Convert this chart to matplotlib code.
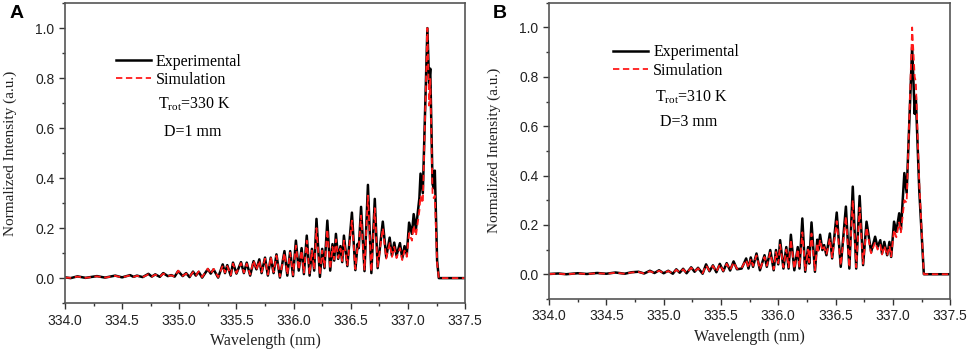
import matplotlib.pyplot as plt
from matplotlib.ticker import MultipleLocator

plt.rcParams["mathtext.fontset"] = "custom"
plt.rcParams["mathtext.rm"] = "Liberation Serif"
plt.rcParams["mathtext.it"] = "Liberation Serif:italic"

# Panel A (D=1 mm): band-head region, extrema
wl_a = [334.00, 334.05, 334.11, 334.18, 334.28, 334.35, 334.44, 334.50, 334.57, 334.60,
        334.63, 334.68, 334.73, 334.76, 334.79, 334.83, 334.86, 334.90,
        334.93, 334.96, 334.99, 335.03, 335.06, 335.09, 335.12, 335.145, 335.17, 335.20,
        335.25, 335.275, 335.30, 335.34, 335.38, 335.40, 335.42, 335.45, 335.47, 335.50,
        335.54, 335.565, 335.59, 335.62, 335.65, 335.675, 335.70, 335.72, 335.75, 335.775,
        335.80, 335.825, 335.85, 335.88, 335.92, 335.945, 335.97, 335.995,
        336.02, 336.045, 336.07, 336.09, 336.115, 336.14, 336.16, 336.18, 336.20, 336.23,
        336.25, 336.27, 336.295, 336.32, 336.34, 336.355, 336.37, 336.39, 336.41, 336.425,
        336.44, 336.47,
        336.51, 336.54, 336.56, 336.57, 336.59, 336.62, 336.65, 336.68, 336.71, 336.735,
        336.78, 336.81, 336.84, 336.86, 336.88, 336.90, 336.93, 336.95, 336.97, 336.99,
        337.01, 337.035, 337.05, 337.07, 337.10, 337.11, 337.13, 337.17, 337.185, 337.195,
        337.215, 337.225, 337.235, 337.255, 337.27, 337.30, 337.50]
exp_a = [0.003, 0.000, 0.007, 0.001, 0.008, 0.002, 0.010, 0.003, 0.012, 0.005,
         0.010, 0.004, 0.017, 0.006, 0.015, 0.005, 0.020, 0.008,
         0.012, 0.006, 0.028, 0.008, 0.020, 0.004, 0.026, 0.010, 0.025, 0.002,
         0.036, 0.018, 0.035, 0.002, 0.055, 0.020, 0.052, 0.010, 0.062, 0.018,
         0.064, 0.020, 0.062, 0.010, 0.068, 0.035, 0.075, 0.020, 0.082, 0.010,
         0.082, 0.020, 0.095, 0.002, 0.108, 0.010, 0.108, 0.008,
         0.150, 0.030, 0.120, 0.016, 0.170, 0.010, 0.117, 0.030, 0.237, 0.005,
         0.117, 0.040, 0.230, 0.030, 0.136, 0.070, 0.177, 0.077, 0.128, 0.064,
         0.170, 0.048,
         0.262, 0.032, 0.137, 0.120, 0.285, 0.028, 0.373, 0.020, 0.317, 0.040,
         0.226, 0.084, 0.162, 0.090, 0.142, 0.090, 0.140, 0.080, 0.128, 0.095,
         0.222, 0.177, 0.256, 0.197, 0.320, 0.418, 0.340, 1.000, 0.780, 0.838,
         0.377, 0.360, 0.430, 0.070, 0.000, 0.000, 0.000]
sim_a = [0.002, 0.001, 0.006, 0.001, 0.007, 0.002, 0.009, 0.003, 0.011, 0.005,
         0.009, 0.004, 0.015, 0.006, 0.014, 0.005, 0.018, 0.008,
         0.011, 0.006, 0.030, 0.009, 0.018, 0.005, 0.024, 0.010, 0.027, 0.004,
         0.038, 0.016, 0.037, 0.004, 0.050, 0.022, 0.048, 0.012, 0.058, 0.020,
         0.060, 0.022, 0.058, 0.014, 0.070, 0.032, 0.070, 0.024, 0.078, 0.014,
         0.085, 0.024, 0.090, 0.006, 0.100, 0.014, 0.102, 0.012,
         0.130, 0.034, 0.110, 0.022, 0.150, 0.016, 0.110, 0.034, 0.200, 0.012,
         0.110, 0.045, 0.195, 0.036, 0.125, 0.075, 0.155, 0.080, 0.118, 0.068,
         0.150, 0.052,
         0.230, 0.036, 0.130, 0.125, 0.250, 0.034, 0.330, 0.026, 0.280, 0.046,
         0.200, 0.078, 0.140, 0.085, 0.125, 0.080, 0.120, 0.072, 0.110, 0.085,
         0.180, 0.150, 0.210, 0.170, 0.270, 0.330, 0.300, 1.000, 0.690, 0.800,
         0.340, 0.320, 0.330, 0.060, 0.000, 0.000, 0.000]

# Panel B (D=3 mm)
wl_b = [334.00, 334.08, 334.15, 334.25, 334.33, 334.42, 334.50, 334.58, 334.66, 334.72,
        334.78, 334.83, 334.88, 334.92,
        334.96, 335.00, 335.04, 335.08, 335.11, 335.14, 335.17, 335.20, 335.24, 335.27,
        335.30, 335.34, 335.37, 335.40, 335.43, 335.46, 335.49, 335.52, 335.55, 335.58,
        335.61, 335.64,
        335.68, 335.72, 335.74, 335.76, 335.78, 335.81, 335.84, 335.88, 335.90, 335.93,
        335.96, 335.98, 336.00,
        336.016, 336.045, 336.07, 336.09, 336.11, 336.14, 336.17, 336.185, 336.21, 336.235,
        336.26, 336.27, 336.29, 336.32, 336.34, 336.35, 336.365, 336.385, 336.40, 336.42,
        336.45, 336.47,
        336.51, 336.545, 336.59, 336.62, 336.65, 336.68, 336.71, 336.74, 336.77, 336.81,
        336.845, 336.866, 336.89, 336.905, 336.925, 336.95, 336.97, 336.985,
        337.01, 337.03, 337.055, 337.07, 337.10, 337.12, 337.168, 337.19, 337.20, 337.23,
        337.27, 337.30, 337.50]
exp_b = [0.001, 0.003, 0.000, 0.004, 0.001, 0.005, 0.002, 0.007, 0.002, 0.008,
         0.010, 0.003, 0.014, 0.005,
         0.016, 0.004, 0.014, 0.002, 0.020, 0.006, 0.022, 0.004, 0.028, 0.010,
         0.026, 0.002, 0.040, 0.012, 0.036, 0.008, 0.042, 0.012, 0.045, 0.015,
         0.052, 0.020,
         0.023, 0.064, 0.023, 0.068, 0.030, 0.084, 0.016, 0.077, 0.030, 0.098,
         0.016, 0.098, 0.040,
         0.138, 0.023, 0.110, 0.023, 0.160, 0.016, 0.110, 0.023, 0.226, 0.010,
         0.110, 0.043, 0.210, 0.010, 0.140, 0.100, 0.160, 0.098, 0.118, 0.077,
         0.165, 0.064,
         0.250, 0.030, 0.274, 0.023, 0.355, 0.023, 0.317, 0.037, 0.213, 0.090,
         0.152, 0.110, 0.138, 0.084, 0.131, 0.077, 0.131, 0.070,
         0.213, 0.172, 0.247, 0.180, 0.410, 0.330, 0.920, 0.650, 0.720, 0.340,
         0.000, 0.000, 0.000]
sim_b = [0.001, 0.002, 0.000, 0.003, 0.001, 0.004, 0.002, 0.006, 0.002, 0.007,
         0.009, 0.003, 0.012, 0.005,
         0.014, 0.005, 0.013, 0.003, 0.018, 0.007, 0.020, 0.005, 0.026, 0.011,
         0.024, 0.004, 0.036, 0.014, 0.034, 0.010, 0.040, 0.014, 0.042, 0.017,
         0.048, 0.022,
         0.026, 0.058, 0.026, 0.062, 0.034, 0.076, 0.020, 0.070, 0.034, 0.088,
         0.020, 0.090, 0.044,
         0.120, 0.028, 0.100, 0.028, 0.140, 0.022, 0.102, 0.028, 0.170, 0.016,
         0.100, 0.048, 0.165, 0.016, 0.125, 0.095, 0.140, 0.095, 0.110, 0.080,
         0.145, 0.068,
         0.215, 0.035, 0.235, 0.028, 0.300, 0.028, 0.270, 0.042, 0.190, 0.085,
         0.130, 0.100, 0.120, 0.080, 0.115, 0.075, 0.115, 0.072,
         0.180, 0.150, 0.210, 0.170, 0.300, 0.290, 1.000, 0.800, 0.780, 0.370,
         0.000, 0.000, 0.000]

serif = "Liberation Serif"
sans = "Liberation Sans"

fig = plt.figure(figsize=(9.69, 3.5), dpi=100)
ax_a = fig.add_axes([0.067, 0.134, 0.413, 0.857])
ax_b = fig.add_axes([0.5666, 0.146, 0.414, 0.846])

# legend x, legend top y, text x, T_rot y, D x, D y (axes fractions)
panels = [
    (ax_a, wl_a, exp_a, sim_a, "330 K", "D=1 mm", (0.128, 0.832, 0.2325, 0.663, 0.2475, 0.57)),
    (ax_b, wl_b, exp_b, sim_b, "310 K", "D=3 mm", (0.16, 0.86, 0.264, 0.682, 0.277, 0.598)),
]

for ax, wl, ex, sm, trot, dist, pos in panels:
    ax.plot(wl, ex, color="black", linewidth=1.8, label="Experimental")
    ax.plot(wl, sm, color="#ff1a1a", linewidth=1.3, linestyle=(0, (3.5, 2)), label="Simulation")
    ax.set_xlim(334.0, 337.5)
    ax.set_ylim(-0.1, 1.1)
    ax.xaxis.set_major_locator(MultipleLocator(0.5))
    ax.xaxis.set_minor_locator(MultipleLocator(0.25))
    ax.yaxis.set_minor_locator(MultipleLocator(0.1))
    ax.set_yticks([0.0, 0.2, 0.4, 0.6, 0.8, 1.0])
    ax.xaxis.set_major_formatter(plt.FormatStrFormatter("%.1f"))
    ax.yaxis.set_major_formatter(plt.FormatStrFormatter("%.1f"))
    ax.tick_params(which="major", direction="out", length=4, width=1, labelsize=10, colors="#333333")
    ax.tick_params(which="minor", direction="out", length=2.5, width=1, colors="#333333")
    for lab in ax.get_xticklabels() + ax.get_yticklabels():
        lab.set_fontfamily(sans)
        lab.set_color("#222222")
    for sp in ax.spines.values():
        sp.set_color("#555555")
        sp.set_linewidth(1.2)
    ax.set_xlabel("Wavelength (nm)", family=serif, fontsize=11.5, color="#222222", labelpad=4)
    ax.set_ylabel("Normalized Intensity (a.u.)", family=serif, fontsize=11, color="#222222", labelpad=13)
    ax.legend(loc="upper left", bbox_to_anchor=(pos[0], pos[1]), frameon=False,
              prop={"family": serif, "size": 11.5}, handlelength=2.2, handletextpad=0.3,
              labelspacing=0.15, borderaxespad=0, borderpad=0)
    ax.text(pos[2], pos[3], r"T$_{\mathrm{rot}}$=" + trot, transform=ax.transAxes,
            family=serif, fontsize=11.5, va="center")
    ax.text(pos[4], pos[5], dist, transform=ax.transAxes,
            family=serif, fontsize=11.5, va="center")

fig.text(0.010, 0.985, "A", family=sans, fontweight="bold", fontsize=14, va="top")
fig.text(0.508, 0.985, "B", family=sans, fontweight="bold", fontsize=14, va="top")

fig.savefig("out.png", dpi=100)
plt.close(fig)
